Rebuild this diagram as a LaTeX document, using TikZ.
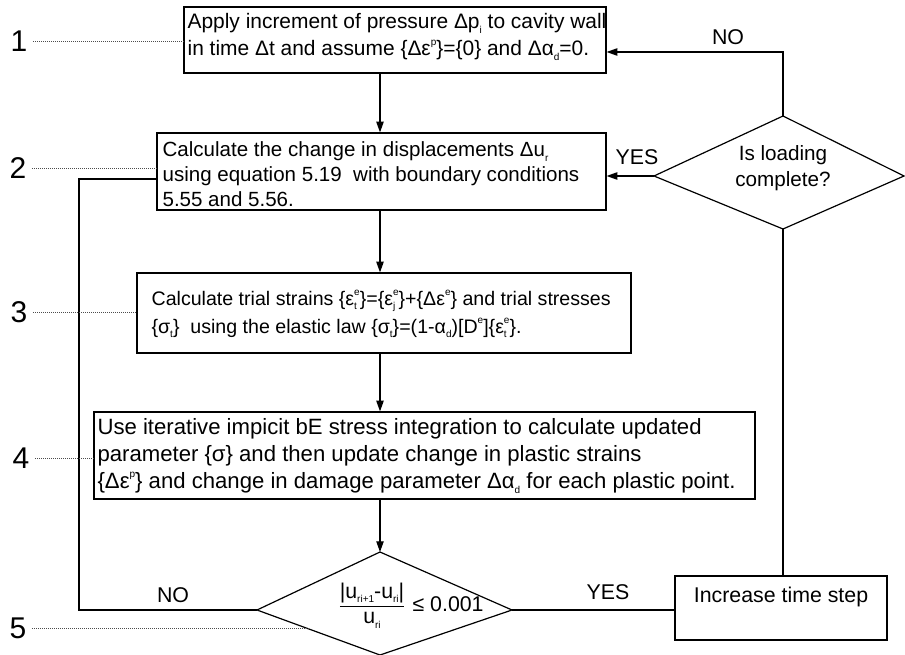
\documentclass[tikz,border=0pt]{standalone}
\usepackage{fontspec}
\setmainfont{Liberation Sans}
\usetikzlibrary{arrows.meta,calc}

% small raised / lowered indices for the flowchart text
\newcommand\lowix[1]{\raisebox{-0.4ex}{\fontsize{7.5}{8}\selectfont #1}}
\newcommand\highix[1]{\raisebox{0.95ex}{\fontsize{7.5}{8}\selectfont #1}}
\newcommand\bothix[2]{\rlap{\lowix{#1}}\highix{#2}}

\begin{document}
\begin{tikzpicture}[x=0.75pt,y=-0.75pt,
  line width=0.9pt,
  procbox/.style={draw, rectangle, inner sep=0pt},
  boxtext/.style={anchor=west, align=left, inner sep=0pt},
  lbl/.style={inner sep=0pt, font=\fontsize{16}{19}\selectfont},
  stepno/.style={inner sep=0pt, font=\fontsize{22.5}{24}\selectfont},
  leader/.style={densely dotted, line width=0.5pt, black!70},
  flow/.style={-{Triangle[length=8pt,width=5.5pt]}},
]
\useasboundingbox (0,0) rectangle (905,655);

% x position of the main vertical flow
\coordinate (col) at (380,0);

% ---- process boxes ----
\node[procbox, minimum width=316.5pt, minimum height=49.5pt] (b1) at (395,40) {};
\node[boxtext, font=\fontsize{15.7}{20}\selectfont] (t1) at (187,37) {Apply increment of pressure Δp\lowix{i} to cavity wall\\
  in time Δt and assume \{Δε\highix{p}\}=\{0\} and Δα\lowix{d}=0.};

\node[procbox, minimum width=336.75pt, minimum height=57.75pt] (b2) at (381.5,171.5) {};
\node[boxtext, font=\fontsize{15.4}{18.5}\selectfont] (t2) at (162,174) {Calculate the change in displacements Δu\lowix{r}\\
  using equation 5.19\ \ with boundary conditions\\
  5.55 and 5.56.};

\node[procbox, minimum width=370.5pt, minimum height=60pt] (b3) at (384,313) {};
\node[boxtext, font=\fontsize{14.7}{21}\selectfont] (t3) at (151,314) {Calculate trial strains \{ε\bothix{t}{e}\}=\{ε\bothix{j}{e}\}+\{Δε\highix{e}\} and trial stresses\\
  \{σ\lowix{t}\}\ \ using the elastic law \{σ\lowix{t}\}=(1-α\lowix{d})[D\highix{e}]\{ε\bothix{t}{e}\}.};

\node[procbox, minimum width=495.75pt, minimum height=65.25pt] (b4) at (424.5,455.5) {};
\node[boxtext, font=\fontsize{16.6}{20.25}\selectfont] (t4) at (97,456) {Use iterative impicit bE stress integration to calculate updated\\
  parameter \{σ\} and then update change in plastic strains\\
  \{Δε\highix{p}\} and change in damage parameter Δα\lowix{d} for each plastic point.};

\node[procbox, minimum width=159pt, minimum height=48pt] (inc) at (781,608) {};
\node[lbl] (tinc) at (781,597) {Increase time step};

% ---- decision: loading complete ----
\coordinate (d2t) at (783,116);
\coordinate (d2l) at (654,176);
\coordinate (d2b) at (783,229);
\coordinate (d2r) at (904,176);
\draw (d2t) -- (d2r) -- (d2b) -- (d2l) -- cycle;
\node[lbl, align=center, font=\fontsize{15.5}{20}\selectfont] (q2) at (783,168) {Is loading\\complete?};

% ---- decision: convergence check ----
\coordinate (d5t) at (380,552);
\coordinate (d5l) at (257,610);
\coordinate (d5b) at (380,655);
\coordinate (d5r) at (512,610);
\draw (d5t) -- (d5r) -- (d5b) -- (d5l) -- cycle;
\node[inner sep=0pt, font=\fontsize{16}{18}\selectfont] (frac) at (372,606)
  {\setlength{\tabcolsep}{0pt}\renewcommand{\arraystretch}{1.05}%
   \begin{tabular}{c}|u\lowix{ri+1}-u\lowix{ri}|\\\hline u\lowix{ri}\end{tabular}};
\node[lbl, anchor=west] (tol) at (412,604) {≤ 0.001};

% ---- main flow ----
\draw[flow] (b1.south -| col) -- (b2.north -| col);
\draw[flow] (b2.south -| col) -- (b3.north -| col);
\draw[flow] (b3.south -| col) -- (b4.north -| col);
\draw[flow] (b4.south -| col) -- (d5t);

% converged: go on to the next time step
\draw (d5r) -- (d5r -| inc.west);
\node[lbl] (yes5) at (608,592) {YES};
\draw (inc.north -| d2b) -- (d2b);

% loading complete?  yes -> back to the displacement step
\draw[flow] (d2l) -- (d2l -| b2.east);
\node[lbl] (yes2) at (637,157) {YES};

% loading complete?  no -> apply the next pressure increment
\coordinate (noturn) at (783,52);
\draw[flow] (d2t) -- (noturn) -- (noturn -| b1.east);
\node[lbl] (no2) at (728,37) {NO};

% not converged: iterate again
\coordinate (back) at (79,179);
\draw (d5l) -| (back) -- (back -| b2.west);
\node[lbl] (no5) at (173,595) {NO};

% ---- step numbers with leaders ----
\node[stepno] (n1) at (19,41) {1};
\node[stepno] (n2) at (18,168) {2};
\node[stepno] (n3) at (19,312) {3};
\node[stepno] (n4) at (21,458) {4};
\node[stepno] (n5) at (18,628) {5};
\coordinate (d5cut) at ($(d5l)!0.432!(d5b)$);
\draw[leader] ([xshift=4pt]n1.east) -- (n1.east -| b1.west);
\draw[leader] ([xshift=4pt]n2.east) -- (n2.east -| b2.west);
\draw[leader] ([xshift=4pt]n3.east) -- (n3.east -| b3.west);
\draw[leader] ([xshift=4pt]n4.east) -- (n4.east -| b4.west);
\draw[leader] ([xshift=4pt]n5.east) -- (n5.east -| d5cut);
\end{tikzpicture}
\end{document}
